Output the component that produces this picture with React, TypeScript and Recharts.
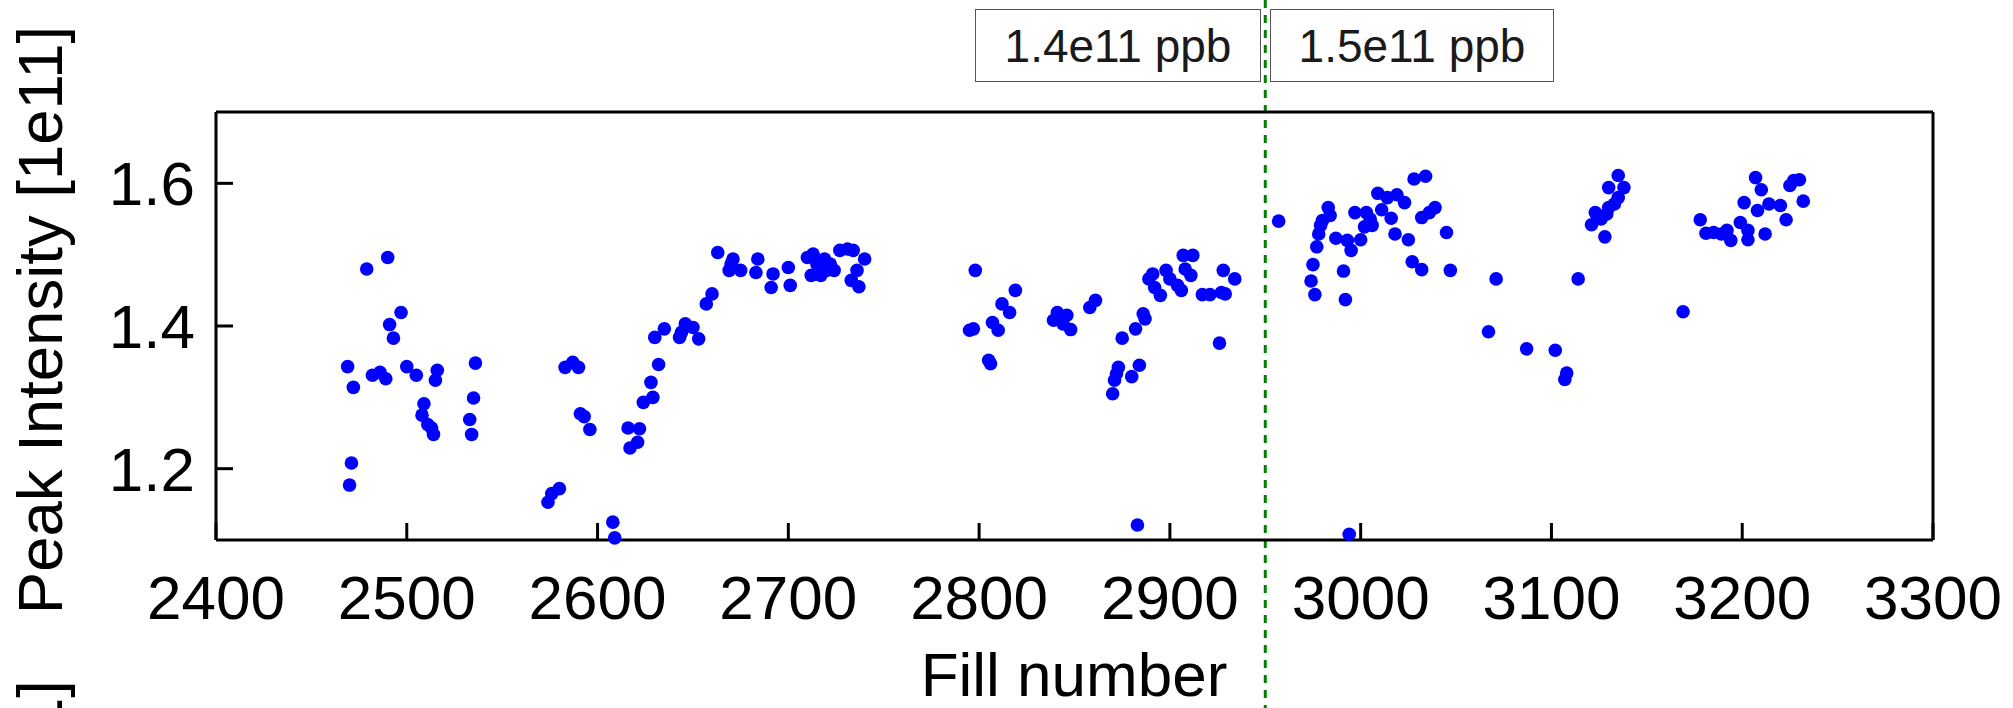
import React from 'react';
import { ScatterChart, Scatter, XAxis, YAxis, ReferenceLine } from 'recharts';

// fill number vs. peak intensity (units of 1e11)
const fillNumber = [
  2469, 2472, 2471, 2470, 2479, 2490, 2482, 2486, 2489, 2497,
  2491, 2493, 2500, 2505, 2509, 2508, 2511, 2513, 2514, 2516,
  2515, 2536, 2535, 2533, 2534, 2574, 2576, 2580, 2583, 2587,
  2590, 2591, 2593, 2596, 2608, 2609, 2616, 2617,
  2622, 2621, 2624, 2629, 2628, 2632, 2630, 2635, 2644, 2646,
  2650, 2653, 2643, 2657, 2660, 2663, 2671, 2669, 2675, 2670,
  2684, 2683, 2691, 2692, 2700, 2701, 2710, 2713, 2712, 2717,
  2719, 2722, 2724, 2727, 2731, 2734, 2740, 2736, 2733, 2737,
  2715, 2720,
  2798, 2795, 2797, 2807, 2810, 2805, 2806, 2812, 2816, 2819,
  2841, 2846, 2839, 2844, 2848, 2842, 2858, 2861, 2870, 2871,
  2873, 2872, 2880, 2884, 2875, 2882, 2886, 2887, 2883, 2889,
  2891, 2892, 2895, 2898, 2900, 2904, 2906, 2907, 2912, 2908,
  2911, 2917, 2921, 2926, 2928, 2927, 2929, 2934,
  2957, 2983, 2984, 2980, 2979, 2978, 2977, 2975, 2974, 2976,
  2987, 2993, 2995, 3000, 2991, 2992, 2997, 3003, 3002, 3006,
  3005, 3009, 3014, 3019, 3023, 3011, 3016, 3018, 3025, 3028,
  3034, 3032, 3036, 3039, 3027, 3032, 3045, 3047, 3071, 3067,
  3087, 2994,
  3102, 3108, 3107, 3114, 3121, 3123, 3126, 3129, 3130, 3133,
  3135, 3130, 3138, 3135, 3128, 3169, 3178, 3181, 3185, 3189,
  3192, 3194, 3199, 3203, 3203, 3201, 3208, 3210, 3207, 3212,
  3214, 3220, 3223, 3225, 3227, 3230, 3232,
];

const peakIntensity = [
  1.343, 1.314, 1.208, 1.177, 1.480, 1.496, 1.331, 1.335, 1.326, 1.419,
  1.402, 1.383, 1.343, 1.331, 1.291, 1.275, 1.262, 1.257, 1.248, 1.338,
  1.324, 1.348, 1.299, 1.269, 1.248, 1.153, 1.165, 1.172, 1.342, 1.349,
  1.342, 1.277, 1.273, 1.255, 1.125, 1.103, 1.257, 1.229,
  1.256, 1.237, 1.293, 1.300, 1.321, 1.346, 1.384, 1.396, 1.391, 1.403,
  1.398, 1.382, 1.384, 1.431, 1.445, 1.503, 1.494, 1.478, 1.478, 1.487,
  1.494, 1.475, 1.454, 1.473, 1.482, 1.457, 1.496, 1.501, 1.471, 1.471,
  1.494, 1.487, 1.478, 1.506, 1.508, 1.506, 1.494, 1.478, 1.464, 1.455,
  1.487, 1.478,
  1.478, 1.394, 1.396, 1.405, 1.394, 1.352, 1.347, 1.431, 1.419, 1.450,
  1.419, 1.415, 1.408, 1.403, 1.395, 1.412, 1.426, 1.436, 1.305, 1.324,
  1.342, 1.333, 1.329, 1.345, 1.383, 1.396, 1.417, 1.410, 1.121, 1.466,
  1.473, 1.454, 1.443, 1.478, 1.466, 1.457, 1.450, 1.499, 1.499, 1.480,
  1.471, 1.444, 1.444, 1.376, 1.478, 1.447, 1.445, 1.466,
  1.547, 1.566, 1.555, 1.548, 1.541, 1.529, 1.511, 1.486, 1.463, 1.444,
  1.523, 1.520, 1.506, 1.521, 1.477, 1.437, 1.559, 1.559, 1.539, 1.541,
  1.550, 1.586, 1.580, 1.584, 1.573, 1.563, 1.551, 1.529, 1.521, 1.606,
  1.610, 1.552, 1.559, 1.566, 1.490, 1.479, 1.531, 1.478, 1.466, 1.392,
  1.368, 1.108,
  1.366, 1.334, 1.325, 1.466, 1.542, 1.559, 1.550, 1.557, 1.566, 1.571,
  1.580, 1.594, 1.594, 1.611, 1.525, 1.420, 1.549, 1.530, 1.531, 1.529,
  1.534, 1.520, 1.545, 1.534, 1.521, 1.573, 1.562, 1.591, 1.608, 1.529,
  1.571, 1.569, 1.549, 1.597, 1.604, 1.605, 1.575,
];

const xTicks = [2400, 2500, 2600, 2700, 2800, 2900, 3000, 3100, 3200, 3300];
const yTicks = [1.2, 1.4, 1.6];
const boundaryFill = 2950;
const bunchLabels = ['1.4e11 ppb', '1.5e11 ppb'];

const data = fillNumber.map((x, i) => ({ x, y: peakIntensity[i] }));

const W = 2013;
const H = 708;
const FONT = '"Liberation Sans", Arial, Helvetica, sans-serif';
const AXIS = { stroke: '#000', strokeWidth: 3 };

const Dot = (props: any) => (
  <circle cx={props.cx} cy={props.cy} r={6.8} fill="#0000ff" />
);

const boxStyle: React.CSSProperties = {
  position: 'absolute',
  top: 9,
  height: 73,
  border: '1px solid #555',
  background: '#fff',
  boxSizing: 'border-box',
  display: 'flex',
  alignItems: 'center',
  justifyContent: 'center',
  fontFamily: FONT,
  fontSize: 46,
  color: '#1a1a1a',
};

export default function App() {
  return (
    <div style={{ position: 'absolute', left: 0, top: 0, width: W, height: H, background: '#fff' }}>
      <ScatterChart width={W} height={H} margin={{ top: 111, right: 79, bottom: 0, left: 0 }}>
        <XAxis
          type="number"
          dataKey="x"
          domain={[2400, 3300]}
          ticks={xTicks}
          height={168}
          axisLine={AXIS}
          tickLine={AXIS}
          tickSize={-17}
          tickMargin={52}
          tick={{ fill: '#000', fontSize: 62, fontFamily: FONT }}
          label={{
            content: () => (
              <text x={1074} y={696} textAnchor="middle" fontSize={62} fontFamily={FONT} fill="#000">
                Fill number
              </text>
            ),
          }}
        />
        <XAxis
          xAxisId="top"
          orientation="top"
          type="number"
          domain={[2400, 3300]}
          ticks={xTicks}
          height={1}
          axisLine={AXIS}
          tickLine={AXIS}
          tickSize={-17}
          tick={false}
        />
        <YAxis
          type="number"
          dataKey="y"
          domain={[1.1, 1.7]}
          ticks={yTicks}
          width={216}
          axisLine={AXIS}
          tickLine={AXIS}
          tickSize={-17}
          tickMargin={38}
          tickFormatter={(v: number) => v.toFixed(1)}
          tick={{ fill: '#000', fontSize: 62, fontFamily: FONT }}
          label={{
            content: () => (
              <g>
                <text x={62} y={320} transform="rotate(-90, 62, 320)" textAnchor="middle" fontSize={63.5} fontFamily={FONT} fill="#000">
                  Peak Intensity [1e11]
                </text>
                <text x={62} y={680} transform="rotate(-90, 62, 680)" textAnchor="end" fontSize={63.5} fontFamily={FONT} fill="#000">
                  Peak Intensity [1e11]
                </text>
              </g>
            ),
          }}
        />
        <YAxis
          yAxisId="right"
          orientation="right"
          type="number"
          domain={[1.1, 1.7]}
          ticks={yTicks}
          width={1}
          axisLine={AXIS}
          tickLine={AXIS}
          tickSize={-17}
          tick={false}
        />
        <ReferenceLine
          x={boundaryFill}
          shape={(p: any) => (
            <line x1={p.x1} x2={p.x2} y1={0} y2={H} stroke="#008000" strokeWidth={3} strokeDasharray="8 7" />
          )}
        />
        <Scatter data={data} shape={Dot} isAnimationActive={false} />
      </ScatterChart>
      <div style={{ ...boxStyle, left: 975, width: 286 }}>{bunchLabels[0]}</div>
      <div style={{ ...boxStyle, left: 1270, width: 284 }}>{bunchLabels[1]}</div>
    </div>
  );
}
